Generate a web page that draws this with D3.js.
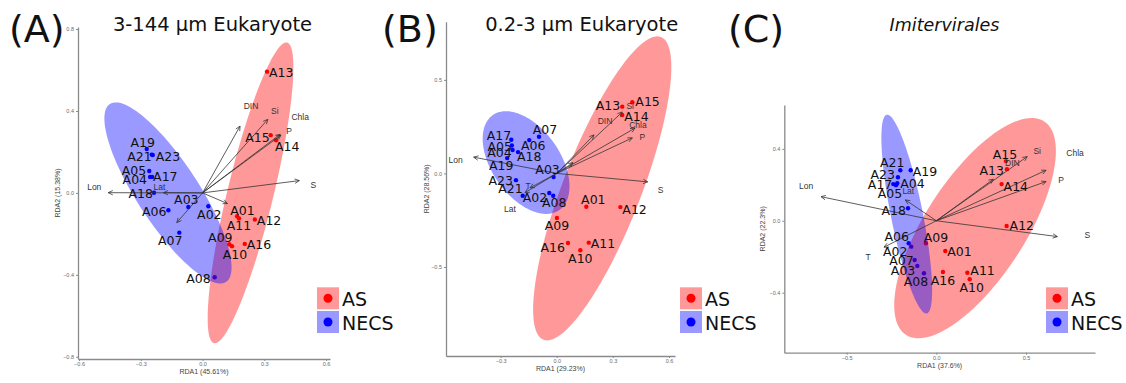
<!DOCTYPE html>
<html>
<head>
<meta charset="utf-8">
<script src="https://cdn.jsdelivr.net/npm/d3@7"></script>
<style>
  body { margin: 0; background: #fff; }
  svg { display: block; }
</style>
</head>
<body>
<svg id="chart" width="1126" height="383"></svg>
<script>
// ---- data ----
const sites = ['A01','A02','A03','A04','A05','A06','A07','A08','A09','A10','A11','A12','A13','A14','A15','A16','A17','A18','A19','A21','A23'];
const region = ['AS','NECS','NECS','NECS','NECS','NECS','NECS','NECS','AS','AS','AS','AS','AS','AS','AS','AS','NECS','NECS','NECS','NECS','NECS'];
const groups = ['AS', 'NECS'];

// (A) 3-144 um eukaryotes
const rda1A = [0.168, 0.028, -0.069, -0.255, -0.259, -0.166, -0.113, 0.059, 0.130, 0.143, 0.177, 0.254, 0.313, 0.357, 0.331, 0.205, -0.245, -0.236, -0.271, -0.247, -0.242];
const rda2A = [-0.114, -0.065, -0.069, 0.078, 0.107, -0.085, -0.194, -0.412, -0.251, -0.260, -0.125, -0.130, 0.592, 0.257, 0.282, -0.249, 0.078, 0.001, 0.214, 0.187, 0.185];
// (B) 0.2-3 um eukaryotes
const rda1B = [0.158, -0.040, -0.017, -0.236, -0.240, -0.147, -0.095, -0.019, 0.001, 0.126, 0.171, 0.340, 0.350, 0.350, 0.404, 0.060, -0.243, -0.207, -0.265, -0.182, -0.218];
const rda2B = [-0.178, -0.105, -0.019, 0.125, 0.149, 0.178, 0.196, -0.119, -0.238, -0.411, -0.370, -0.180, 0.357, 0.312, 0.381, -0.372, 0.180, 0.114, 0.082, -0.119, -0.036];
// (C) Imitervirales
const rda1C = [0.050, -0.140, -0.106, -0.218, -0.225, -0.154, -0.121, -0.069, -0.058, 0.186, 0.173, 0.392, 0.394, 0.364, 0.388, 0.037, -0.240, -0.158, -0.143, -0.201, -0.214];
const rda2C = [-0.168, -0.144, -0.251, 0.209, 0.198, -0.125, -0.218, -0.292, -0.125, -0.325, -0.289, -0.029, 0.287, 0.204, 0.332, -0.285, 0.204, 0.070, 0.281, 0.281, 0.242];

// environmental vectors
const envNames = ['DIN', 'Si', 'Chla', 'P', 'S', 'Lon', 'Lat', 'T', 'DO'];
const envA1 = [0.182, 0.317, 0.377, 0.381, 0.470, -0.458, -0.190, -0.125, 0.121];
const envA2 = [0.326, 0.359, 0.286, 0.282, 0.060, 0.001, 0.001, -0.145, -0.052];
const envB1 = [0.199, 0.350, 0.418, 0.404, 0.486, -0.444, -0.170, -0.143, 0.087];
const envB2 = [0.206, 0.328, 0.242, 0.190, -0.045, 0.087, -0.103, -0.077, 0.057];
const envC1 = [0.318, 0.507, 0.612, 0.612, 0.675, -0.643, -0.173, -0.292];
const envC2 = [0.231, 0.357, 0.281, 0.218, -0.088, 0.134, 0.116, -0.147];

// group ellipses: [cx, cy, semi-major, semi-minor, angle deg]
const ellA = [[0.233, 0.000, 0.755, 0.112, 76.4], [-0.168, 0.000, 0.518, 0.150, 123]];
const ellB = [[0.243, -0.080, 0.868, 0.209, 68.8], [-0.164, 0.058, 0.310, 0.182, 125]];
const ellC = [[0.216, -0.041, 0.708, 0.279, 57], [-0.165, 0.037, 0.564, 0.089, 101.4]];

const xTicksA = [-0.6, -0.3, 0, 0.3, 0.6], yTicksA = [-0.8, -0.4, 0, 0.4, 0.8];
const xTicksB = [-0.3, 0, 0.3, 0.6], yTicksB = [-0.5, 0, 0.5];
const xTicksC = [-0.5, 0, 0.5], yTicksC = [-0.4, 0, 0.4];

// ---- label placement (anchor, dx px, dy px) ----
const labA = {A13:['start',2,1], A15:['end',-1,2], A14:['start',-1,6], A19:['middle',-4,-7], A21:['end',0,2],
  A23:['start',3,1], A05:['end',-3,0], A04:['end',-3,3], A17:['start',1,0], A18:['end',-1,1], A03:['middle',-2,-8],
  A02:['middle',1,8], A06:['end',-2,1], A07:['middle',-9,8], A08:['end',-4,1], A01:['start',-7,-6], A11:['middle',0,7],
  A12:['start',2,1], A09:['middle',-9,-7], A10:['middle',3,8], A16:['start',2,1]};
const labB = {A15:['start',3,-1], A13:['end',-2,-1], A14:['start',2,1], A07:['middle',6,-7], A06:['middle',4,5],
  A17:['end',0,-4], A05:['end',0,1], A04:['end',-1,2], A18:['start',-1,4], A19:['middle',-6,7], A03:['middle',-6,-7],
  A23:['end',-3,0], A21:['end',0,-7], A02:['end',-2,4], A08:['middle',1,7], A01:['middle',7,-7], A12:['start',2,2],
  A09:['middle',0,8], A16:['end',-3,4], A11:['start',2,1], A10:['middle',0,8]};
const labC = {A15:['middle',-1,-7], A13:['end',-3,1], A14:['start',2,2], A12:['start',3,0], A21:['middle',-8,-8],
  A19:['start',2,1], A23:['end',-3,-3], A17:['end',-1,0], A04:['start',3,0], A05:['middle',-6,8], A18:['end',-2,2],
  A06:['middle',-12,-7], A02:['middle',-16,5], A09:['middle',10,-6], A01:['start',2,1], A07:['end',-1,1],
  A03:['end',-2,5], A08:['middle',-8,8], A16:['middle',0,9], A11:['start',3,-2], A10:['middle',2,8]};
const envLabA = {DIN:[11,-20], Si:[7,-8], Chla:[20,-17], P:[8,-4], S:[14,4], Lon:[-14,-6], Lat:[-4,-6]};
const envLabB = {Si:[8,-6], DIN:[11,-14], Chla:[3,-3], P:[10,-1], S:[13,8], Lon:[-18,3], Lat:[-15,16], T:[-2,-2]};
const envLabC = {Si:[10,-6], DIN:[19,-16], Chla:[29,-17], P:[15,-2], S:[30,-2], Lon:[-15,-11], Lat:[3,-9], T:[-16,10]};

const colors = {AS: '#ff0000', NECS: '#0000ff'};
const W = 1126, H = 383;

const panels = [
  {letter: '(A)', letterX: 9, title: '3-144 µm Eukaryote', italic: false, titleX: 212.5, titleSize: 19.5,
   r1: rda1A, r2: rda2A, e1: envA1, e2: envA2, ell: ellA, labs: labA, envLabs: envLabA,
   xDom: [-0.605, 0.619], yDom: [-0.811, 0.810], box: {l: 78, r: 330, t: 27, b: 359},
   xTicks: xTicksA, yTicks: yTicksA, xTitle: 'RDA1 (45.61%)', yTitle: 'RDA2 (15.38%)', yTitleX: 58, legX: 317},
  {letter: '(B)', letterX: 382, title: '0.2-3 µm Eukaryote', italic: false, titleX: 581.7, titleSize: 19.5,
   r1: rda1B, r2: rda2B, e1: envB1, e2: envB2, ell: ellB, labs: labB, envLabs: envLabB,
   xDom: [-0.592, 0.632], yDom: [-0.976, 0.811], box: {l: 446, r: 675, t: 21.7, b: 356},
   xTicks: xTicksB, yTicks: yTicksB, xTitle: 'RDA1 (29.23%)', yTitle: 'RDA2 (28.56%)', yTitleX: 427, legX: 680},
  {letter: '(C)', letterX: 728, title: 'Imitervirales', italic: true, titleX: 944.5, titleSize: 17.5,
   r1: rda1C, r2: rda2C, e1: envC1, e2: envC2, ell: ellC, labs: labC, envLabs: envLabC,
   xDom: [-0.848, 0.885], yDom: [-0.734, 0.644], box: {l: 784.3, r: 1095, t: 105, b: 352.7},
   xTicks: xTicksC, yTicks: yTicksC, xTitle: 'RDA1 (37.6%)', yTitle: 'RDA2 (22.3%)', yTitleX: 763, legX: 1046}
];

const svg = d3.select('#chart');
svg.append('rect').attr('width', W).attr('height', H).attr('fill', '#fff');
const defs = svg.append('defs');

panels.forEach((p, pi) => {
  const x = d3.scaleLinear().domain(p.xDom).range([p.box.l, p.box.r]);
  const y = d3.scaleLinear().domain(p.yDom).range([p.box.b, p.box.t]);
  const g = svg.append('g');

  defs.append('clipPath').attr('id', 'clip' + pi)
    .append('rect').attr('x', p.box.l).attr('y', p.box.t)
    .attr('width', p.box.r - p.box.l).attr('height', p.box.b - p.box.t);

  // axes
  const fmt = d3.format('.1f');
  const ax = g.append('g').attr('transform', `translate(0,${p.box.b})`)
    .call(d3.axisBottom(x).tickValues(p.xTicks).tickSize(2).tickPadding(1.5).tickSizeOuter(0).tickFormat(fmt));
  const ay = g.append('g').attr('transform', `translate(${p.box.l},0)`)
    .call(d3.axisLeft(y).tickValues(p.yTicks).tickSize(2).tickPadding(2).tickSizeOuter(0).tickFormat(fmt));
  [ax, ay].forEach(a => {
    a.select('.domain').attr('stroke', '#8a8a8a').attr('stroke-width', 1.3);
    a.selectAll('.tick line').attr('stroke', '#8a8a8a');
    a.selectAll('.tick text').attr('fill', '#6b6b6b')
      .style('font-family', 'Liberation Sans, Arial, sans-serif').style('font-size', '5.5px');
  });

  g.append('text').attr('x', (p.box.l + p.box.r) / 2).attr('y', p.box.b + 15)
    .attr('text-anchor', 'middle').attr('fill', '#444')
    .style('font-family', 'Liberation Sans, Arial, sans-serif').style('font-size', '7px').text(p.xTitle);
  g.append('text').attr('transform', `translate(${p.yTitleX},${(p.box.t + p.box.b) / 2}) rotate(-90)`)
    .attr('text-anchor', 'middle').attr('dy', '0.35em').attr('fill', '#444')
    .style('font-family', 'Liberation Sans, Arial, sans-serif').style('font-size', '7px').text(p.yTitle);

  const plot = g.append('g').attr('clip-path', `url(#clip${pi})`);

  // site points
  const pts = sites.map((s, i) => ({site: s, grp: region[i], x: p.r1[i], y: p.r2[i]}));
  plot.selectAll('circle.pt').data(pts).enter().append('circle')
    .attr('class', 'pt')
    .attr('cx', d => x(d.x)).attr('cy', d => y(d.y)).attr('r', 2.2)
    .attr('fill', d => colors[d.grp]);

  // ellipses over points
  const line = d3.line().x(d => x(d[0])).y(d => y(d[1])).curve(d3.curveLinearClosed);
  p.ell.forEach((e, gi) => {
    const [cx, cy, a, b, ang] = e;
    const th = ang * Math.PI / 180;
    const ring = d3.range(120).map(k => {
      const t = k / 120 * 2 * Math.PI;
      return [cx + a * Math.cos(t) * Math.cos(th) - b * Math.sin(t) * Math.sin(th),
              cy + a * Math.cos(t) * Math.sin(th) + b * Math.sin(t) * Math.cos(th)];
    });
    plot.append('path').attr('d', line(ring))
      .attr('fill', colors[groups[gi]]).attr('fill-opacity', 0.4).attr('stroke', 'none');
  });

  // environmental arrows
  const envs = p.e1.map((v, i) => ({name: envNames[i], x: v, y: p.e2[i]}));
  const ox = x(0), oy = y(0);
  envs.forEach(d => {
    const tx = x(d.x), ty = y(d.y);
    const angle = Math.atan2(ty - oy, tx - ox);
    const hl = 5, ha = 0.45;
    plot.append('line').attr('x1', ox).attr('y1', oy).attr('x2', tx).attr('y2', ty)
      .attr('stroke', '#333').attr('stroke-width', 0.8);
    plot.append('path')
      .attr('d', `M${tx - hl * Math.cos(angle - ha)},${ty - hl * Math.sin(angle - ha)}L${tx},${ty}L${tx - hl * Math.cos(angle + ha)},${ty - hl * Math.sin(angle + ha)}`)
      .attr('fill', 'none').attr('stroke', '#333').attr('stroke-width', 0.8);
    const lo = p.envLabs[d.name];
    if (lo) {
      g.append('text').attr('x', tx + lo[0]).attr('y', ty + lo[1]).attr('dy', '0.35em')
        .attr('text-anchor', 'middle').attr('fill', '#333')
        .style('font-family', 'Liberation Sans, Arial, sans-serif').style('font-size', '8.5px')
        .text(d.name);
    }
  });

  // site labels
  pts.forEach(d => {
    const l = p.labs[d.site];
    g.append('text').attr('x', x(d.x) + l[1]).attr('y', y(d.y) + l[2]).attr('dy', '0.36em')
      .attr('text-anchor', l[0]).attr('fill', '#111')
      .style('font-family', 'DejaVu Sans, sans-serif').style('font-size', '12.5px')
      .text(d.site);
  });

  // panel letter and title
  g.append('text').attr('x', p.letterX).attr('y', 41.5).attr('fill', '#111')
    .style('font-family', 'DejaVu Sans, sans-serif').style('font-size', '38px').text(p.letter);
  g.append('text').attr('x', p.titleX).attr('y', 30.7).attr('text-anchor', 'middle').attr('fill', '#111')
    .style('font-family', 'DejaVu Sans, sans-serif').style('font-size', p.titleSize + 'px')
    .style('font-style', p.italic ? 'italic' : 'normal').text(p.title);

  // legend
  groups.forEach((gr, k) => {
    const ky = 287.3 + k * 23.7;
    g.append('rect').attr('x', p.legX).attr('y', ky).attr('width', 22).attr('height', 22)
      .attr('fill', colors[gr]).attr('fill-opacity', 0.4);
    g.append('circle').attr('cx', p.legX + 11).attr('cy', ky + 11).attr('r', 4.5).attr('fill', colors[gr]);
    g.append('text').attr('x', p.legX + 25).attr('y', ky + 12).attr('dy', '0.35em').attr('fill', '#111')
      .style('font-family', 'DejaVu Sans, sans-serif').style('font-size', '19px').text(gr);
  });
});
</script>
</body>
</html>
